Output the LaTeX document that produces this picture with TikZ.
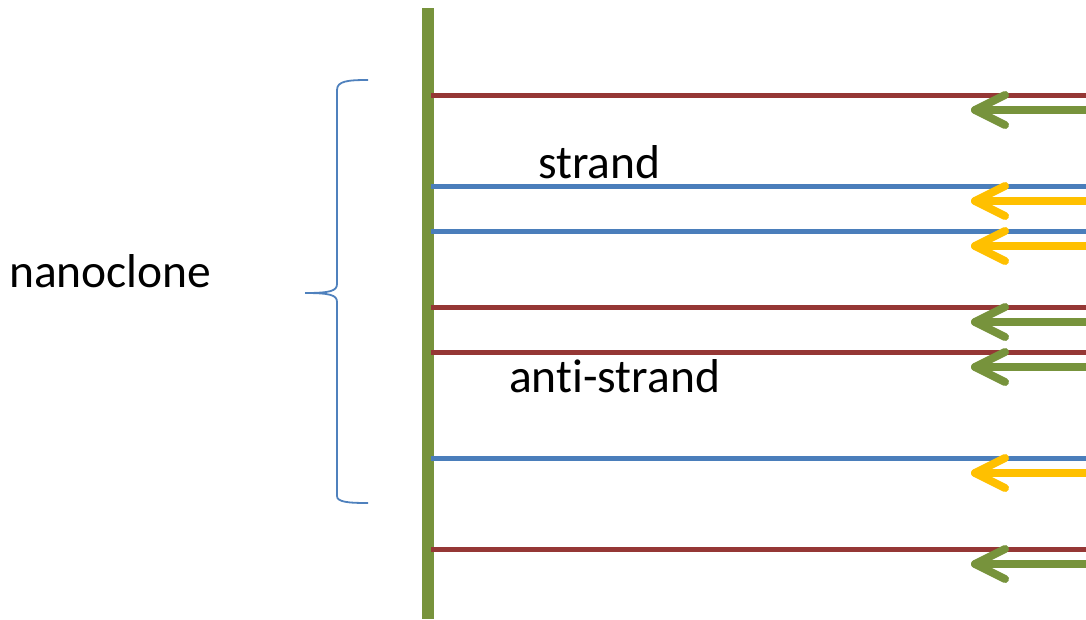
\documentclass[tikz,border=0pt]{standalone}
\usepackage{fontspec}
\setmainfont{Carlito}[Ligatures={NoCommon}]
\definecolor{cred}{HTML}{953735}
\definecolor{cblue}{HTML}{4A7EBB}
\definecolor{cgreen}{HTML}{77933C}
\definecolor{cyellow}{HTML}{FFC000}
\definecolor{cbrace}{HTML}{4F81BD}
\tikzset{
  strandline/.style={line width=5pt},
  revarrow/.style={line width=8pt, line cap=round, line join=round},
  lbl/.style={inner sep=0pt, anchor=base west, font=\fontsize{47.5}{56}\selectfont},
}
\begin{document}
\begin{tikzpicture}[x=1pt,y=-1pt]
\useasboundingbox (0,0) rectangle (1086,619);
% backbone
\coordinate (bbtop) at (428,8);
\coordinate (bbbot) at (428,619);
\draw[cgreen, line width=12pt] (bbtop) -- (bbbot);
% strands: y, color, arrow color
\foreach \y/\c/\a [count=\i] in {95/cred/cgreen, 186/cblue/cyellow, 231/cblue/cyellow, 307/cred/cgreen, 352/cred/cgreen, 458/cblue/cyellow, 549/cred/cgreen}{
  \coordinate (s\i) at (431,\y);
  \coordinate (e\i) at (1086,\y);
  \draw[\c, strandline] (s\i) -- (e\i);
  \coordinate (ab\i) at (1090,\y+15);
  \coordinate (at\i) at (975,\y+15);
  \coordinate (wu\i) at (1005,\y);
  \coordinate (wd\i) at (1005,\y+30);
  \draw[\a, revarrow] (ab\i) -- (at\i);
  \draw[\a, revarrow] (wu\i) -- (at\i) -- (wd\i);
}
% brace
\coordinate (btop) at (368,80);
\coordinate (bbot) at (368,503);
\coordinate (btip) at (305,293);
\draw[cbrace, line width=1.8pt]
  (btop) .. controls (348,80) and (337,81) .. (337,90)
  -- (337,284) .. controls (337,291) and (330,293) .. (btip)
  (btip) .. controls (330,293) and (337,295) .. (337,302)
  -- (337,496) .. controls (337,502) and (348,503) .. (bbot);
% labels
\node[lbl] (nano) at (9,287) {nanoclone};
\node[lbl] (str) at (538,178) {strand};
\node[lbl] (astr) at (509,392) {ant\kern0pt i-strand};
\end{tikzpicture}
\end{document}
